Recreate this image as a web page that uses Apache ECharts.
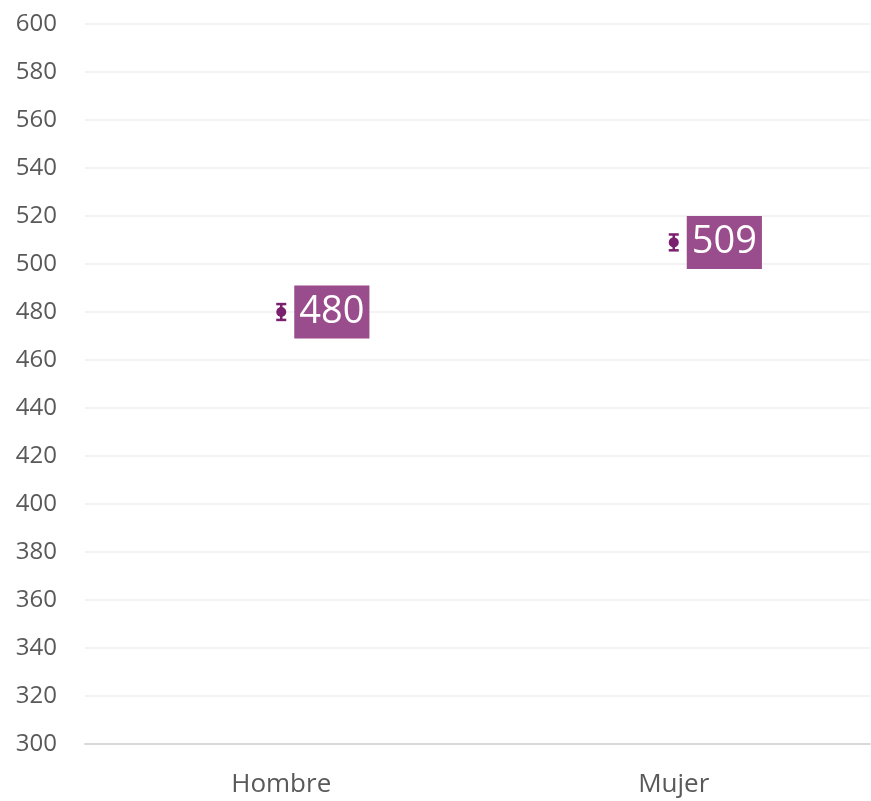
<!DOCTYPE html>
<html>
<head>
<meta charset="utf-8">
<script src="https://cdn.jsdelivr.net/npm/echarts@6/dist/echarts.min.js"></script>
<style>
  html, body { margin: 0; padding: 0; background: #fff; }
  #chart { width: 871px; height: 801px; }
</style>
</head>
<body>
<div id="chart"></div>
<script>
// datos
var categories = ["Hombre", "Mujer"];
var means = [480, 509];
var lowerCI = [476.7, 505.7];
var upperCI = [483.3, 512.3];

var chart = echarts.init(document.getElementById("chart"));

var barData = categories.map(function (c, i) {
  return [i, lowerCI[i], upperCI[i]];
});

var option = {
  animation: false,
  grid: { left: 85, right: 1, top: 24, bottom: 57, outerBoundsMode: "none", containLabel: false },
  xAxis: {
    type: "category",
    data: categories,
    axisLine: { lineStyle: { color: "#d9d9d9", width: 2 } },
    axisTick: { show: false },
    axisLabel: { color: "#595959", fontSize: 26, fontFamily: "Open Sans", margin: 28 }
  },
  yAxis: {
    type: "value",
    min: 300,
    max: 600,
    interval: 20,
    axisLine: { show: false },
    axisTick: { show: false },
    axisLabel: { color: "#595959", fontSize: 24, fontFamily: "Open Sans", margin: 28 },
    splitLine: { lineStyle: { color: "#efefef", width: 1.5 } }
  },
  series: [
    {
      type: "custom",
      data: barData,
      renderItem: function (params, api) {
        var x = api.value(0);
        var lo = api.coord([x, api.value(1)]);
        var hi = api.coord([x, api.value(2)]);
        var w = 5;
        var style = { stroke: "#7b1f6f", lineWidth: 2.5 };
        return {
          type: "group",
          children: [
            { type: "line", shape: { x1: lo[0], y1: lo[1], x2: hi[0], y2: hi[1] }, style: style },
            { type: "line", shape: { x1: lo[0] - w, y1: lo[1], x2: lo[0] + w, y2: lo[1] }, style: style },
            { type: "line", shape: { x1: hi[0] - w, y1: hi[1], x2: hi[0] + w, y2: hi[1] }, style: style }
          ]
        };
      },
      z: 3
    },
    {
      type: "scatter",
      data: means,
      symbol: "circle",
      symbolSize: 10,
      itemStyle: { color: "#7b1f6f", opacity: 1 },
      z: 4,
      label: {
        show: true,
        position: "right",
        distance: 8,
        color: "#fff",
        fontSize: 38,
        fontFamily: "Open Sans",
        backgroundColor: "#9a4d8c",
        padding: [8, 5, 7, 5],
        formatter: function (p) { return p.value; }
      }
    }
  ]
};

chart.setOption(option);
window.addEventListener("resize", function () {
  chart.resize();
});
</script>
</body>
</html>
